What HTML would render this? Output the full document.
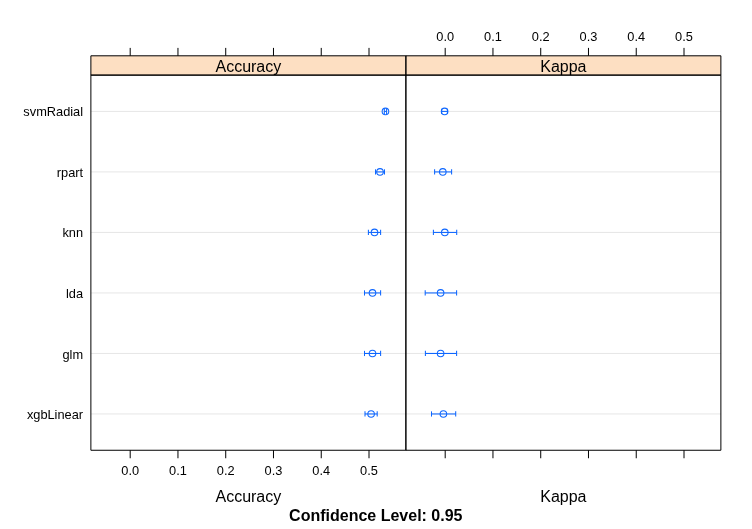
<!DOCTYPE html>
<html lang="en"><head><meta charset="utf-8"><title>Confidence intervals</title>
<style>html,body{margin:0;padding:0;background:#fff}svg{display:block}text{font-family:"Liberation Sans",Arial,Helvetica,sans-serif;fill:#000}</style></head><body>
<svg width="752" height="529" viewBox="0 0 752 529">
<rect width="752" height="529" fill="#fff"/>
<rect x="90.88" y="55.8" width="315.0" height="19.31" fill="#fddfc2"/>
<rect x="405.88" y="55.8" width="315.00" height="19.31" fill="#fddfc2"/>
<g stroke="#e6e6e6" stroke-width="1">
<line x1="90.88" x2="720.88" y1="111.41" y2="111.41"/>
<line x1="90.88" x2="720.88" y1="171.92" y2="171.92"/>
<line x1="90.88" x2="720.88" y1="232.43" y2="232.43"/>
<line x1="90.88" x2="720.88" y1="292.94" y2="292.94"/>
<line x1="90.88" x2="720.88" y1="353.45" y2="353.45"/>
<line x1="90.88" x2="720.88" y1="413.96" y2="413.96"/>
</g>
<g stroke="#0d66ff" stroke-width="1.05" fill="none">
<line x1="384.3" x2="386.6" y1="111.41" y2="111.41"/>
<line x1="384.3" x2="384.3" y1="108.81" y2="114.01"/>
<line x1="386.6" x2="386.6" y1="108.81" y2="114.01"/>
<circle cx="385.45" cy="111.41" r="3.3"/>
<line x1="375.5" x2="384.5" y1="171.92" y2="171.92"/>
<line x1="375.5" x2="375.5" y1="169.32" y2="174.52"/>
<line x1="384.5" x2="384.5" y1="169.32" y2="174.52"/>
<circle cx="380.0" cy="171.92" r="3.3"/>
<line x1="368.4" x2="380.6" y1="232.43" y2="232.43"/>
<line x1="368.4" x2="368.4" y1="229.83" y2="235.03"/>
<line x1="380.6" x2="380.6" y1="229.83" y2="235.03"/>
<circle cx="374.5" cy="232.43" r="3.3"/>
<line x1="364.5" x2="380.6" y1="292.94" y2="292.94"/>
<line x1="364.5" x2="364.5" y1="290.34" y2="295.54"/>
<line x1="380.6" x2="380.6" y1="290.34" y2="295.54"/>
<circle cx="372.5" cy="292.94" r="3.3"/>
<line x1="364.5" x2="380.6" y1="353.45" y2="353.45"/>
<line x1="364.5" x2="364.5" y1="350.85" y2="356.05"/>
<line x1="380.6" x2="380.6" y1="350.85" y2="356.05"/>
<circle cx="372.5" cy="353.45" r="3.3"/>
<line x1="365.0" x2="377.2" y1="413.96" y2="413.96"/>
<line x1="365.0" x2="365.0" y1="411.36" y2="416.56"/>
<line x1="377.2" x2="377.2" y1="411.36" y2="416.56"/>
<circle cx="371.1" cy="413.96" r="3.3"/>
<line x1="441.7" x2="447.4" y1="111.41" y2="111.41"/>
<line x1="441.7" x2="441.7" y1="108.81" y2="114.01"/>
<line x1="447.4" x2="447.4" y1="108.81" y2="114.01"/>
<circle cx="444.6" cy="111.41" r="3.3"/>
<line x1="434.6" x2="451.6" y1="171.92" y2="171.92"/>
<line x1="434.6" x2="434.6" y1="169.32" y2="174.52"/>
<line x1="451.6" x2="451.6" y1="169.32" y2="174.52"/>
<circle cx="442.8" cy="171.92" r="3.3"/>
<line x1="433.4" x2="456.7" y1="232.43" y2="232.43"/>
<line x1="433.4" x2="433.4" y1="229.83" y2="235.03"/>
<line x1="456.7" x2="456.7" y1="229.83" y2="235.03"/>
<circle cx="444.8" cy="232.43" r="3.3"/>
<line x1="425.2" x2="456.6" y1="292.94" y2="292.94"/>
<line x1="425.2" x2="425.2" y1="290.34" y2="295.54"/>
<line x1="456.6" x2="456.6" y1="290.34" y2="295.54"/>
<circle cx="440.6" cy="292.94" r="3.3"/>
<line x1="425.4" x2="456.6" y1="353.45" y2="353.45"/>
<line x1="425.4" x2="425.4" y1="350.85" y2="356.05"/>
<line x1="456.6" x2="456.6" y1="350.85" y2="356.05"/>
<circle cx="440.6" cy="353.45" r="3.3"/>
<line x1="431.5" x2="455.7" y1="413.96" y2="413.96"/>
<line x1="431.5" x2="431.5" y1="411.36" y2="416.56"/>
<line x1="455.7" x2="455.7" y1="411.36" y2="416.56"/>
<circle cx="443.4" cy="413.96" r="3.3"/>
</g>
<g stroke="#000" stroke-width="1" fill="none" stroke-linejoin="round" stroke-linecap="butt">
<rect x="90.88" y="55.8" width="315.00" height="19.31"/>
<rect x="405.88" y="55.8" width="315.00" height="19.31"/>
<rect x="90.88" y="75.11" width="315.00" height="375.15"/>
<rect x="405.88" y="75.11" width="315.00" height="375.15"/>
<line x1="130.20" x2="130.20" y1="55.8" y2="47.90"/>
<line x1="130.20" x2="130.20" y1="450.26" y2="458.26"/>
<line x1="445.20" x2="445.20" y1="55.8" y2="47.90"/>
<line x1="445.20" x2="445.20" y1="450.26" y2="458.26"/>
<line x1="177.96" x2="177.96" y1="55.8" y2="47.90"/>
<line x1="177.96" x2="177.96" y1="450.26" y2="458.26"/>
<line x1="492.96" x2="492.96" y1="55.8" y2="47.90"/>
<line x1="492.96" x2="492.96" y1="450.26" y2="458.26"/>
<line x1="225.72" x2="225.72" y1="55.8" y2="47.90"/>
<line x1="225.72" x2="225.72" y1="450.26" y2="458.26"/>
<line x1="540.72" x2="540.72" y1="55.8" y2="47.90"/>
<line x1="540.72" x2="540.72" y1="450.26" y2="458.26"/>
<line x1="273.48" x2="273.48" y1="55.8" y2="47.90"/>
<line x1="273.48" x2="273.48" y1="450.26" y2="458.26"/>
<line x1="588.48" x2="588.48" y1="55.8" y2="47.90"/>
<line x1="588.48" x2="588.48" y1="450.26" y2="458.26"/>
<line x1="321.24" x2="321.24" y1="55.8" y2="47.90"/>
<line x1="321.24" x2="321.24" y1="450.26" y2="458.26"/>
<line x1="636.24" x2="636.24" y1="55.8" y2="47.90"/>
<line x1="636.24" x2="636.24" y1="450.26" y2="458.26"/>
<line x1="369.00" x2="369.00" y1="55.8" y2="47.90"/>
<line x1="369.00" x2="369.00" y1="450.26" y2="458.26"/>
<line x1="684.00" x2="684.00" y1="55.8" y2="47.90"/>
<line x1="684.00" x2="684.00" y1="450.26" y2="458.26"/>
</g>
<g font-size="12.8" text-anchor="middle">
<text x="130.20" y="474.7">0.0</text>
<text x="445.20" y="40.7">0.0</text>
<text x="177.96" y="474.7">0.1</text>
<text x="492.96" y="40.7">0.1</text>
<text x="225.72" y="474.7">0.2</text>
<text x="540.72" y="40.7">0.2</text>
<text x="273.48" y="474.7">0.3</text>
<text x="588.48" y="40.7">0.3</text>
<text x="321.24" y="474.7">0.4</text>
<text x="636.24" y="40.7">0.4</text>
<text x="369.00" y="474.7">0.5</text>
<text x="684.00" y="40.7">0.5</text>
</g>
<g font-size="12.8" text-anchor="end">
<text x="83.1" y="116">svmRadial</text>
<text x="83.1" y="177">rpart</text>
<text x="83.1" y="237">knn</text>
<text x="83.1" y="298">lda</text>
<text x="83.1" y="359">glm</text>
<text x="83.1" y="419">xgbLinear</text>
</g>
<g font-size="16" text-anchor="middle">
<text x="248.38" y="71.5">Accuracy</text>
<text x="563.38" y="71.5">Kappa</text>
<text x="248.38" y="501.5">Accuracy</text>
<text x="563.38" y="501.5">Kappa</text>
<text x="375.8" y="520.7" font-weight="bold">Confidence Level: 0.95</text>
</g>
</svg></body></html>
